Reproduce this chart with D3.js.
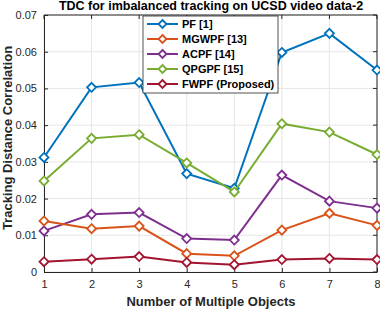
<!DOCTYPE html>
<html><head><meta charset="utf-8">
<script src="https://cdn.jsdelivr.net/npm/d3@7"></script>
<style>body{margin:0;background:#fff}svg{display:block;font-family:"Liberation Sans",Arial,sans-serif}</style>
</head><body><svg id="c" width="380" height="310"></svg>
<script>
const xValues=[1,2,3,4,5,6,7,8];
const seriesNames=["PF [1]","MGWPF [13]","ACPF [14]","QPGPF [15]","FWPF (Proposed)"];
const pf=[0.0312,0.0503,0.0516,0.0268,0.0228,0.0598,0.0650,0.0550];
const mgwpf=[0.0139,0.0118,0.0125,0.0050,0.0044,0.0114,0.0160,0.0127];
const acpf=[0.0112,0.0157,0.0162,0.0091,0.0087,0.0264,0.0193,0.0174];
const qpgpf=[0.0248,0.0364,0.0374,0.0297,0.0218,0.0404,0.0381,0.0320];
const fwpf=[0.0028,0.0035,0.0042,0.0026,0.0020,0.0034,0.0037,0.0034];
const yTicks=[0,0.01,0.02,0.03,0.04,0.05,0.06,0.07];
const colors=["#0072BD","#D95319","#7E2F8E","#77AC30","#A2142F"];
const series=[pf,mgwpf,acpf,qpgpf,fwpf];
const drawOrder=[0,3,2,1,4];

const svg=d3.select("#c");
const L=44,R=377,T=15,B=272;
const x=d3.scaleLinear().domain([1,8]).range([L,R]);
const y=d3.scaleLinear().domain([0,0.07]).range([B,T]);

// grid
svg.append("g").selectAll("line").data(xValues).join("line")
 .attr("x1",d=>x(d)).attr("x2",d=>x(d)).attr("y1",T).attr("y2",B)
 .attr("stroke","#e6e6e6").attr("stroke-width",1);
svg.append("g").selectAll("line").data(yTicks).join("line")
 .attr("x1",L).attr("x2",R).attr("y1",d=>y(d)).attr("y2",d=>y(d))
 .attr("stroke","#e6e6e6").attr("stroke-width",1);

// axes
const ax=svg.append("g").attr("transform",`translate(0,${B})`)
 .call(d3.axisBottom(x).tickValues(xValues).tickFormat(d3.format("d")).tickSizeInner(-4).tickSizeOuter(0).tickPadding(8));
const ay=svg.append("g").attr("transform",`translate(${L},0)`)
 .call(d3.axisLeft(y).tickValues(yTicks).tickFormat(d=>d===0?"0":d3.format(".2f")(d)).tickSizeInner(-4).tickSizeOuter(0).tickPadding(7));
[ax,ay].forEach(a=>{a.selectAll("text").attr("font-size",11).attr("fill","#262626");
 a.selectAll("line,path").attr("stroke","#262626");});
// top/right box
svg.append("line").attr("x1",L).attr("x2",R).attr("y1",T).attr("y2",T).attr("stroke","#262626");
svg.append("line").attr("x1",R).attr("x2",R).attr("y1",T).attr("y2",B).attr("stroke","#262626");
svg.append("g").selectAll("line").data(xValues).join("line")
 .attr("x1",d=>x(d)).attr("x2",d=>x(d)).attr("y1",T).attr("y2",T+4).attr("stroke","#262626");
svg.append("g").selectAll("line").data(yTicks).join("line")
 .attr("x1",R).attr("x2",R-4).attr("y1",d=>y(d)).attr("y2",d=>y(d)).attr("stroke","#262626");

const line=d3.line().x((d,i)=>x(xValues[i])).y(d=>y(d));
const diamond=(cx,cy,s)=>`M${cx},${cy-s}L${cx+s},${cy}L${cx},${cy+s}L${cx-s},${cy}Z`;
drawOrder.forEach(k=>{
 const g=svg.append("g");
 g.append("path").datum(series[k]).attr("d",line).attr("fill","none")
  .attr("stroke",colors[k]).attr("stroke-width",2);
 g.selectAll("path.m").data(series[k]).join("path").attr("class","m")
  .attr("d",(d,i)=>diamond(x(xValues[i]),y(d),4.5))
  .attr("fill","#fff").attr("stroke",colors[k]).attr("stroke-width",1.8);
});

// legend
const lg=svg.append("g");
lg.append("rect").attr("x",143).attr("y",16).attr("width",135).attr("height",77)
 .attr("fill","#fff").attr("stroke","#262626").attr("stroke-width",0.8);
seriesNames.forEach((n,i)=>{
 const yy=24+i*15;
 lg.append("line").attr("x1",147).attr("x2",178).attr("y1",yy).attr("y2",yy)
  .attr("stroke",colors[i]).attr("stroke-width",2);
 lg.append("path").attr("d",diamond(162.5,yy,4)).attr("fill","#fff").attr("stroke",colors[i]).attr("stroke-width",1.8);
 lg.append("text").attr("x",182).attr("y",yy+4).attr("font-size",11).attr("font-weight","bold")
  .attr("fill","#000").text(n);
});

// titles
svg.append("text").attr("x",211).attr("y",10).attr("text-anchor","middle").attr("font-size",12.5)
 .attr("font-weight","bold").attr("fill","#000").text("TDC for imbalanced tracking on UCSD video data-2");
svg.append("text").attr("x",211).attr("y",306).attr("text-anchor","middle").attr("font-size",13)
 .attr("font-weight","bold").attr("fill","#262626").text("Number of Multiple Objects");
svg.append("text").attr("transform","translate(12,138) rotate(-90)").attr("text-anchor","middle").attr("font-size",13)
 .attr("font-weight","bold").attr("fill","#262626").text("Tracking Distance Correlation");
</script></body></html>
